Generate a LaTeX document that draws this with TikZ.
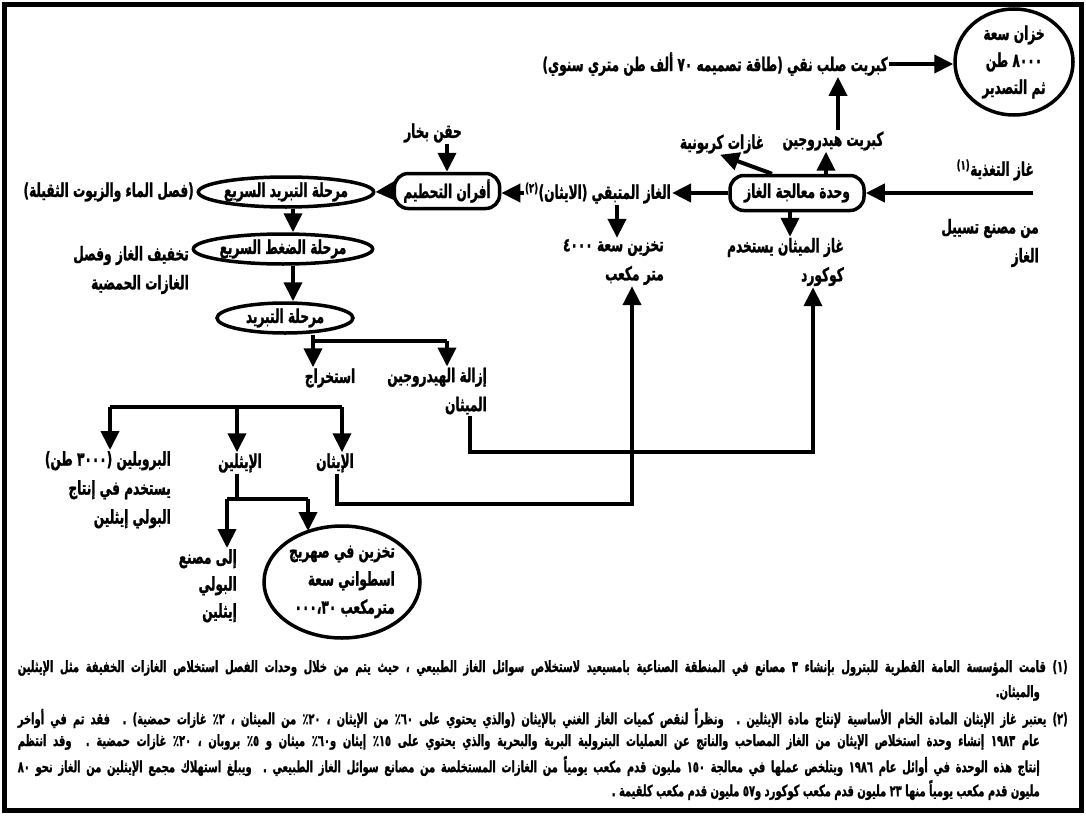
\documentclass[tikz,border=0pt]{standalone}
\usepackage{fontspec}
\newfontfamily\arf[Script=Arabic, FakeStretch=0.64, FakeBold=1.2]{DejaVu Sans}
\TeXXeTstate=1
\usetikzlibrary{arrows.meta,shapes.geometric}
\newcommand{\AR}[1]{\beginR #1\endR}
\newcommand{\LRn}[1]{\beginL #1\endL{}}
\newcommand{\supn}[1]{\textsuperscript{\beginR(\LRn{#1})\endR}}
\tikzset{
 lbl/.style={font=\arf\bfseries\fontsize{19}{29}\selectfont, inner sep=1pt},
 ln/.style={line width=4pt},
 arr/.style={line width=4pt, -{Triangle[length=19pt,width=18pt]}},
 rbox/.style={draw, line width=3.5pt, rounded corners=14pt, inner xsep=9pt, minimum height=35pt},
 oval/.style={draw, ellipse, line width=3.5pt, inner sep=0pt},
 fn/.style={font=\arf\bfseries\fontsize{15.5}{16}\selectfont, inner sep=0pt, anchor=east},
}
\begin{document}
\begin{tikzpicture}[x=1pt,y=-1pt]
\useasboundingbox (0,0) rectangle (1086,816);
\fill[white] (0,0) rectangle (1086,816);
\draw[line width=5pt] (4,5) rectangle (1081,810);

% tank
\node[lbl, oval, minimum width=118pt, minimum height=106pt, align=center, font=\arf\bfseries\fontsize{19}{27}\selectfont] (tank) at (1014,62) {\AR{خزان سعة}\\\AR{\LRn{٨٠٠٠} طن}\\\AR{ثم التصدير}};
\node[lbl, anchor=east] (sulf) at (889,64) {\AR{كبريت صلب نقي (طاقة تصميمه \LRn{٧٠} ألف طن متري سنوي)}};
\draw[arr] (sulf.east) -- (tank.west |- sulf.east);

\node[lbl] (h2s) at (833,141) {\AR{كبريت هيدروجين}};
\draw[arr] ([xshift=5pt]h2s.north) -- ([xshift=5pt]h2s.north |- sulf.south);
\node[lbl] (co2) at (722,144) {\AR{غازات كربونية}};

\node[lbl, rbox, minimum width=134pt] (unit) at (797,193) {\AR{وحدة معالجة الغاز}};
\draw[arr] ([xshift=-25pt]unit.north) -- ([xshift=-2pt]co2.south);
\draw[arr] ([xshift=29pt]unit.north) -- ([xshift=29pt]unit.north |- h2s.south);

\node[lbl, anchor=east] (feed) at (1035,170) {\AR{غاز التغذية\supn{١}}};
\coordinate (inc) at (1033,193);
\draw[arr] (inc) -- (unit.east);
\node[lbl, anchor=east, align=right] (src) at (1040,243) {\AR{من مصنع تسييل}\\\AR{الغاز}};

\node[lbl, anchor=east, align=right] (meth) at (845,262) {\AR{غاز الميثان يستخدم}\\\AR{كوكورد}};
\draw[arr] ([xshift=-7pt]unit.south) -- ([xshift=-7pt]unit.south |- meth.north);

\node[lbl] (rem) at (598,193) {\AR{الغاز المتبقي (الايثان)\supn{٢}}};
\draw[arr] (unit.west) -- (rem.east);
\node[lbl, anchor=east, align=right] (stor) at (665,262) {\AR{تخزين سعة \LRn{٤٠٠٠}}\\\AR{متر مكعب}};
\draw[arr] ([xshift=19pt]rem.south) -- ([xshift=19pt]rem.south |- stor.north);

\node[lbl, rbox, minimum width=100pt] (furn) at (447,191) {\AR{أفران التحطيم}};
\draw[arr] (rem.west) -- (furn.east |- rem.west);
\node[lbl] (steam) at (433,133) {\AR{حقن بخار}};
\draw[arr] ([xshift=14pt]steam.south) -- ([xshift=14pt]steam.south |- furn.north);

\node[lbl, oval, minimum width=168pt, minimum height=30pt] (e1) at (286,192) {\AR{مرحلة التبريد السريع}};
\draw[arr] (furn.west) -- (e1.east);
\node[lbl, anchor=east] (sep) at (195,192) {\AR{(فصل الماء والزيوت الثقيلة)}};

\node[lbl, oval, minimum width=134pt, minimum height=30pt] (e2) at (283,249) {\AR{مرحلة الضغط السريع}};
\draw[arr] ([xshift=7pt]e1.south) -- ([xshift=7pt]e1.south |- e2.north);
\node[lbl, anchor=east, align=right] (acid) at (190,270) {\AR{تخفيف الغاز وفصل}\\\AR{الغازات الحمضية}};

\node[lbl, oval, minimum width=136pt, minimum height=30pt] (e3) at (285,318) {\AR{مرحلة التبريد}};
\draw[arr] ([xshift=10pt]e2.south) -- ([xshift=10pt]e2.south |- e3.north);

% first branching
\coordinate (t1a) at (313,341);
\coordinate (t1b) at (447,341);
\node[lbl] (extr) at (330,378) {\AR{استخراج}};
\node[lbl, anchor=east, align=right] (hrem) at (488,391) {\AR{إزالة الهيدروجين}\\\AR{الميثان}};
\draw[ln] (t1a |- e3.south) -- (t1a);
\draw[ln] (t1a) -- (t1b);
\draw[arr] (t1a) -- (t1a |- extr.north);
\draw[arr] (t1b) -- (t1b |- hrem.north);

% methane line to kokord
\coordinate (m1) at (470,452);
\coordinate (m2) at (813,452);
\draw[arr] (m1 |- hrem.south) -- (m1) -- (m2) -- (m2 |- meth.south);

% second branching
\coordinate (t2a) at (110,407);
\coordinate (t2b) at (237,407);
\coordinate (t2c) at (342,407);
\draw[ln] (t2a) -- (t2c);
\node[lbl, anchor=north east, align=right] (prop) at (172,450) {\AR{البروبلين (\LRn{٣٠٠٠} طن)}\\\AR{يستخدم في إنتاج}\\\AR{البولي إيثلين}};
\node[lbl] (ethy) at (240,463) {\AR{الإيثلين}};
\node[lbl] (etha) at (335,463) {\AR{الإيثان}};
\draw[arr] (t2a) -- (t2a |- prop.north);
\draw[arr] (t2b) -- (t2b |- ethy.north);
\draw[arr] (t2c) -- (t2c |- etha.north);

% ethane line to storage
\coordinate (p1) at (337,504);
\coordinate (p2) at (632,504);
\draw[arr] (p1 |- etha.south) -- (p1) -- (p2) -- (p2 |- stor.south);

% ethylene branching
\coordinate (q0) at (237,499);
\coordinate (q1) at (227,499);
\coordinate (q2) at (308,499);
\coordinate (q3) at (308,531);
\node[lbl, oval, minimum width=156pt, minimum height=112pt, align=right, font=\arf\bfseries\fontsize{19}{28}\selectfont] (circ) at (342,582) {\AR{تخزين في صهريج}\\\AR{اسطواني سعة}\\\AR{مترمكعب \LRn{٠٠٠،٣٠}}};
\node[lbl, anchor=north east, align=right, font=\arf\bfseries\fontsize{19}{27}\selectfont] (ply) at (238,548) {\AR{إلى مصنع}\\\AR{البولي}\\\AR{إيثلين}};
\draw[ln] (q0 |- ethy.south) -- (q0);
\draw[ln] (q1) -- (q2);
\draw[arr] (q1) -- (q1 |- ply.north);
\draw[arr] (q2) -- (q3);

% footnotes
\node[fn] (f1a) at (1068,668) {\hbox to 1050pt{\beginR (\LRn{١}) قامت المؤسسة العامة القطرية للبترول بإنشاء \LRn{٣} مصانع في المنطقة الصناعية بامسيعيد لاستخلاص سوائل الغاز الطبيعي ، حيث يتم من خلال وحدات الفصل استخلاص الغازات الخفيفة مثل الإيثلين\endR}};
\node[fn] (f1b) at (1040,693) {\AR{والميثان.}};
\node[fn] (f2a) at (1068,718) {\hbox to 1050pt{\beginR (\LRn{٢}) يعتبر غاز الإيثان المادة الخام الأساسية لإنتاج مادة الإيثلين . ونظراً لنقص كميات الغاز الغني بالإيثان (والذي يحتوي على \LRn{٦٠}٪ من الإيثان ، \LRn{٢٠}٪ من الميثان ، \LRn{٢}٪ غازات حمضية) . فقد تم في أواخر\endR}};
\node[fn] (f2b) at (1040,742) {\hbox to 1022pt{\beginR عام \LRn{١٩٨٣} إنشاء وحدة استخلاص الإيثان من الغاز المصاحب والناتج عن العمليات البترولية البرية والبحرية والذي يحتوي على \LRn{١٥}٪ إيثان و\LRn{٦٠}٪ ميثان و \LRn{٥}٪ بروبان ، \LRn{٢٠}٪ غازات حمضية . وقد انتظم\endR}};
\node[fn] (f2c) at (1040,766) {\hbox to 1022pt{\beginR إنتاج هذه الوحدة في أوائل عام \LRn{١٩٨٦} ويتلخص عملها في معالجة \LRn{١٥٠} مليون قدم مكعب يومياً من الغازات المستخلصة من مصانع سوائل الغاز الطبيعي . ويبلغ استهلاك مجمع الإيثلين من الغاز نحو \LRn{٨٠}\endR}};
\node[fn] (f2d) at (1040,790) {\AR{مليون قدم مكعب يومياً منها \LRn{٢٣} مليون قدم مكعب كوكورد و\LRn{٥٧} مليون قدم مكعب كلقيمة .}};
\end{tikzpicture}
\end{document}
